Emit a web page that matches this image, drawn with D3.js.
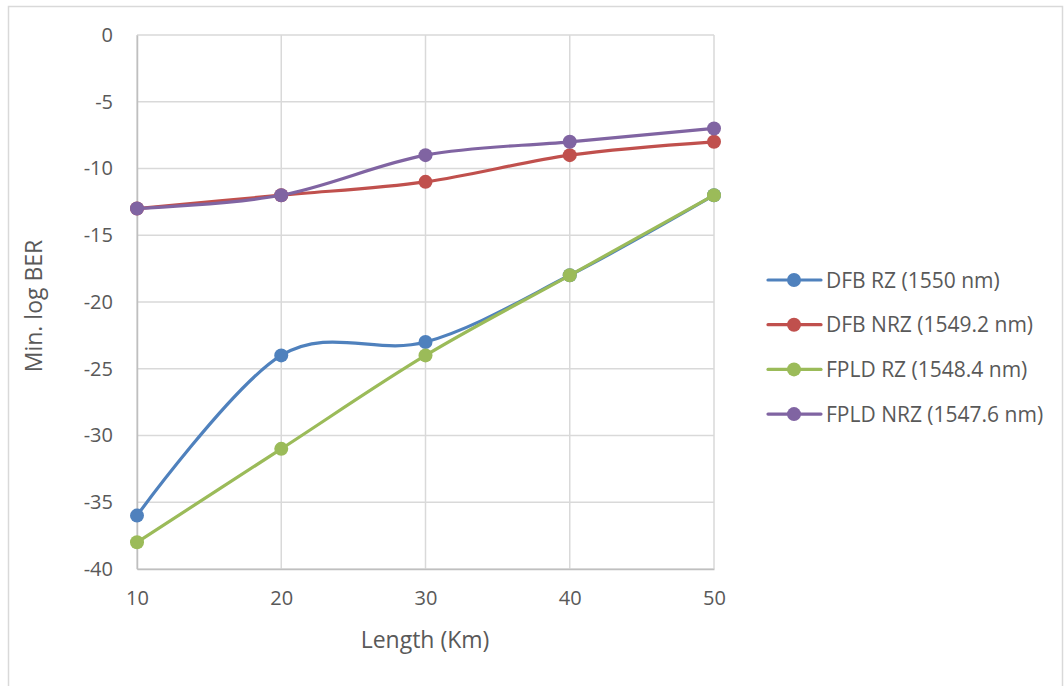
<!DOCTYPE html>
<html><head><meta charset="utf-8">
<script src="https://cdn.jsdelivr.net/npm/d3@7"></script>
<style>body{margin:0;background:#fff;} text{font-family:"Open Sans", Lato, sans-serif;}</style>
</head><body><svg id="c" width="1064" height="686"></svg>
<script>
const lengths = [10, 20, 30, 40, 50];
const dfbRZ = [-36, -24, -23, -18, -12];
const dfbNRZ = [-13, -12, -11, -9, -8];
const fpldRZ = [-38, -31, -24, -18, -12];
const fpldNRZ = [-13, -12, -9, -8, -7];
const seriesNames = ["DFB RZ (1550 nm)", "DFB NRZ (1549.2 nm)", "FPLD RZ (1548.4 nm)", "FPLD NRZ (1547.6 nm)"];
const seriesColors = ["#4F81BD", "#C0504D", "#9BBB59", "#8064A2"];
const yTicks = [0, -5, -10, -15, -20, -25, -30, -35, -40];
const xTicks = [10, 20, 30, 40, 50];

const series = [dfbRZ, dfbNRZ, fpldRZ, fpldNRZ];
const svg = d3.select("#c");
svg.append("rect").attr("x", 8.5).attr("y", 6.5).attr("width", 1054).attr("height", 700)
  .attr("fill", "#fff").attr("stroke", "#D9D9D9").attr("stroke-width", 1.5);

const x = d3.scaleLinear().domain([10, 50]).range([137, 714]);
const y = d3.scaleLinear().domain([-40, 0]).range([569, 35]);

const grid = svg.append("g");
grid.selectAll(".h").data(yTicks).join("line")
  .attr("x1", 137).attr("x2", 714).attr("y1", d => y(d)).attr("y2", d => y(d))
  .attr("stroke", "#D9D9D9").attr("stroke-width", 1.5);
grid.selectAll(".v").data(xTicks).join("line")
  .attr("y1", 35).attr("y2", 569).attr("x1", d => x(d)).attr("x2", d => x(d))
  .attr("stroke", "#D9D9D9").attr("stroke-width", 1.5);

const yAxis = d3.axisLeft(y).tickValues(yTicks).tickSize(0).tickPadding(24).tickFormat(d => String(d));
const ya = svg.append("g").attr("transform", "translate(137,0)").call(yAxis);
ya.select(".domain").attr("stroke", "#BFBFBF").attr("stroke-width", 1.5);
ya.selectAll("text").attr("font-size", 20).attr("fill", "#595959").attr("font-family", "Open Sans");

const xAxis = d3.axisBottom(x).tickValues(xTicks).tickSize(0).tickPadding(22).tickFormat(d => String(d));
const xa = svg.append("g").attr("transform", "translate(0,569)").call(xAxis);
xa.select(".domain").attr("stroke", "#BFBFBF").attr("stroke-width", 1.5);
xa.selectAll("text").attr("font-size", 20).attr("fill", "#595959").attr("font-family", "Open Sans");

svg.append("text").attr("x", 425).attr("y", 648).attr("text-anchor", "middle")
  .attr("font-size", 23).attr("fill", "#595959").text("Length (Km)");
svg.append("text").attr("transform", "translate(42,306) rotate(-90)").attr("text-anchor", "middle")
  .attr("font-size", 23).attr("fill", "#595959").text("Min. log BER");

const line = d3.line().x((d, i) => x(lengths[i])).y(d => y(d)).curve(d3.curveCardinal.tension(0));
series.forEach((s, k) => {
  const g = svg.append("g");
  g.append("path").datum(s).attr("d", line).attr("fill", "none")
    .attr("stroke", seriesColors[k]).attr("stroke-width", 3.2).attr("stroke-linecap", "round");
  g.selectAll("circle").data(s).join("circle")
    .attr("cx", (d, i) => x(lengths[i])).attr("cy", d => y(d)).attr("r", 7)
    .attr("fill", seriesColors[k]);
});

const leg = svg.append("g");
seriesNames.forEach((n, k) => {
  const ly = 280 + k * 44.7;
  leg.append("line").attr("x1", 768).attr("x2", 821).attr("y1", ly).attr("y2", ly)
    .attr("stroke", seriesColors[k]).attr("stroke-width", 3.2).attr("stroke-linecap", "round");
  leg.append("circle").attr("cx", 794).attr("cy", ly).attr("r", 7).attr("fill", seriesColors[k]);
  leg.append("text").attr("x", 826).attr("y", ly + 7.5).attr("font-size", 21)
    .attr("fill", "#595959").text(n);
});
</script></body></html>
